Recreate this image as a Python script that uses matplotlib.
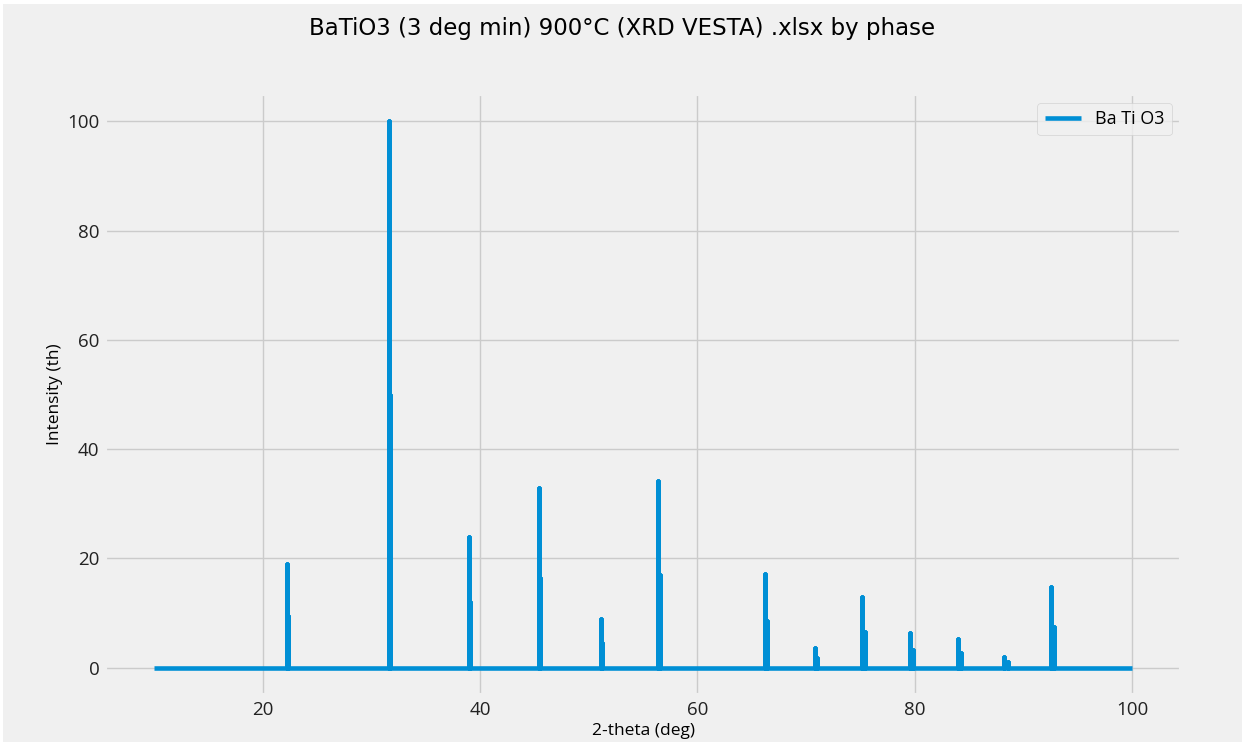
import matplotlib
matplotlib.use("Agg")
import matplotlib.pyplot as plt
from matplotlib.patches import Rectangle
import numpy as np

# Simulated powder pattern for BaTiO3, Cu K-alpha1 / K-alpha2 doublets
two_theta_range = [10.0, 100.0]
ka1_positions = [22.26, 31.65, 38.99, 45.41, 51.13, 56.39, 66.20, 70.80,
                 75.17, 79.61, 83.96, 88.26, 92.52]
ka1_intensity = [18.9, 100.0, 23.9, 32.8, 9.0, 34.1, 17.1, 3.6,
                 13.0, 6.3, 5.2, 2.0, 14.7]
ka2_positions = [22.31, 31.73, 39.08, 45.52, 51.26, 56.53, 66.37, 71.00,
                 75.39, 79.85, 84.23, 88.56, 92.83]
ka2_intensity = [9.5, 50.0, 12.0, 16.4, 4.5, 17.0, 8.5, 1.8,
                 6.5, 3.2, 2.6, 1.0, 7.4]
phase_label = "Ba Ti O3"

# assemble the stick pattern as one continuous trace
peaks = sorted(zip(ka1_positions + ka2_positions, ka1_intensity + ka2_intensity))
xs = [two_theta_range[0]]
ys = [0.0]
for pos, inten in peaks:
    xs += [pos, pos, pos]
    ys += [0.0, inten, 0.0]
xs.append(two_theta_range[1])
ys.append(0.0)

plt.style.use("fivethirtyeight")
W, H, DPI = 1242, 742, 100
fig = plt.figure(figsize=(W / DPI, H / DPI), dpi=DPI, facecolor="white")
fig.patches.append(Rectangle((3 / W, 0), 1, 1 - 4 / H, transform=fig.transFigure,
                             facecolor="#f0f0f0", edgecolor="none", zorder=-10))

ax = fig.add_axes([105 / W, 1 - 695 / H, (1181 - 105) / W, (695 - 94) / H])
ax.plot(xs, ys, color="#008fd5", lw=3.3, solid_joinstyle="round", label=phase_label)

ax.set_xticks([20, 40, 60, 80, 100])
ax.set_yticks([0, 20, 40, 60, 80, 100])
ax.tick_params(labelsize=13.5, pad=4)
for lab in ax.get_xticklabels() + ax.get_yticklabels():
    lab.set_fontfamily("Open Sans")
    lab.set_color("#222222")

ax.set_xlabel("2-theta (deg)", fontsize=12.5, fontfamily="Open Sans", labelpad=3)
ax.set_ylabel("Intensity (th)", fontsize=12.5, fontfamily="Open Sans", labelpad=3)

leg = ax.legend(loc="upper right", prop={"family": "Open Sans", "size": 13})

fig.suptitle("BaTiO3 (3 deg min) 900°C (XRD VESTA) .xlsx by phase",
             x=0.5 + 1.5 / W, y=1 - 29 / H, va="center",
             fontsize=16.5, fontfamily="DejaVu Sans")

fig.savefig("out.png", dpi=DPI, facecolor=fig.get_facecolor())
